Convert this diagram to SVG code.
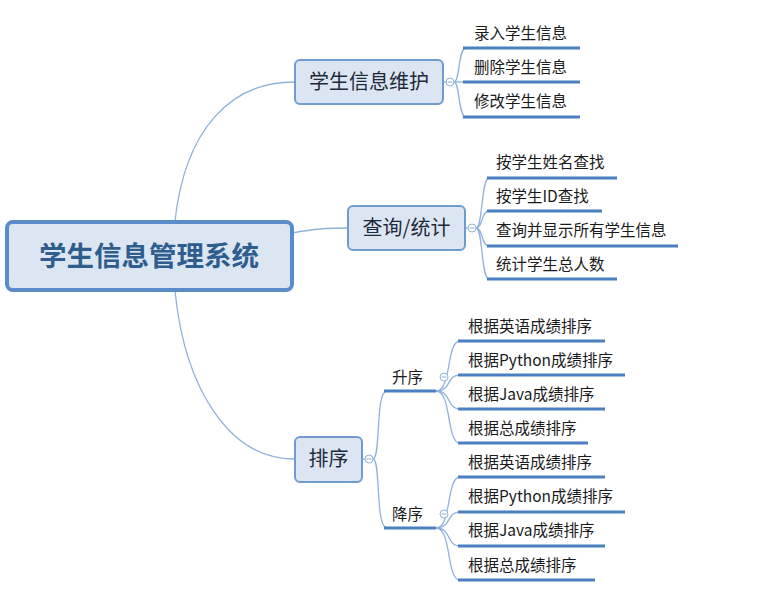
<svg xmlns="http://www.w3.org/2000/svg" width="774" height="595" viewBox="0 0 774 595">
<style>
.bg{fill:#ffffff}
.box{fill:#dce6f2;stroke:#6f9bd1;stroke-width:2}
.root{fill:#dce6f2;stroke:#5a8ccb;stroke-width:4}
.rt{font-family:"Noto Sans CJK SC","Noto Sans",sans-serif;font-size:27.5px;font-weight:bold;fill:#2f5d8e;text-anchor:middle}
.nt{font-family:"Noto Sans CJK SC","Noto Sans",sans-serif;font-size:20px;fill:#1c2a3a;text-anchor:middle}
.ct{font-family:"Noto Sans CJK SC","Noto Sans",sans-serif;font-size:15.5px;fill:#1a1a1a}
.ln{fill:none;stroke:#8fb2dc;stroke-width:1.3}
.ul{fill:none;stroke:#4a7fc0;stroke-width:3}
.tog{fill:#ffffff;stroke:#8fb2dc;stroke-width:1}
.tgm{stroke:#8fb2dc;stroke-width:1}
</style>
<rect class="bg" x="0" y="0" width="774" height="595"/>
<g id="connectors">
<path class="ln" d="M175,221 C185,130 230,82 294,82"/>
<path class="ln" d="M292,233 C315,229 325,228 348,228"/>
<path class="ln" d="M175,291 C185,390 230,459 294,459"/>
<path class="ln" d="M443,82 L446,82"/>
<path class="ln" d="M454,82 C460,82 458,48 466,48"/>
<path class="ln" d="M454,82 L466,82"/>
<path class="ln" d="M454,82 C460,82 458,117 466,117"/>
<path class="ln" d="M465,228 L468,228"/>
<path class="ln" d="M476,228 C483,228 481,178 489,178"/>
<path class="ln" d="M476,228 C483,228 481,211 489,211"/>
<path class="ln" d="M476,228 C483,228 481,246 489,246"/>
<path class="ln" d="M476,228 C483,228 481,279 489,279"/>
<path class="ln" d="M362,459 L365,459"/>
<path class="ln" d="M373,459 C381,459 375,391 387,391"/>
<path class="ln" d="M373,459 C381,459 375,528 387,528"/>
<path class="ln" d="M436,391 C452,391 446,341 460,341"/>
<path class="ln" d="M436,391 C452,391 446,375 460,375"/>
<path class="ln" d="M436,391 C452,391 446,409 460,409"/>
<path class="ln" d="M436,391 C452,391 446,443 460,443"/>
<path class="ln" d="M436,528 C452,528 446,477 460,477"/>
<path class="ln" d="M436,528 C452,528 446,512 460,512"/>
<path class="ln" d="M436,528 C452,528 446,546 460,546"/>
<path class="ln" d="M436,528 C452,528 446,580 460,580"/>
</g>
<g id="root">
<rect class="root" x="7" y="222" width="285" height="68" rx="6"/>
<text class="rt" x="149" y="266">学生信息管理系统</text>
</g>
<g id="n1">
<rect class="box" x="295" y="60" width="148" height="44" rx="5"/>
<text class="nt" x="369" y="89">学生信息维护</text>
<circle class="tog" cx="450" cy="82" r="4"/><line class="tgm" x1="447.5" y1="82" x2="452.5" y2="82"/>
</g>
<g id="n1c1"><text class="ct" x="474" y="39">录入学生信息</text><line class="ul" x1="463" y1="48" x2="580" y2="48"/></g>
<g id="n1c2"><text class="ct" x="474" y="73">删除学生信息</text><line class="ul" x1="463" y1="82" x2="580" y2="82"/></g>
<g id="n1c3"><text class="ct" x="474" y="107">修改学生信息</text><line class="ul" x1="463" y1="117" x2="580" y2="117"/></g>
<g id="n2">
<rect class="box" x="348" y="206" width="117" height="44" rx="5"/>
<text class="nt" x="406.5" y="235">查询/统计</text>
<circle class="tog" cx="472" cy="228" r="4"/><line class="tgm" x1="469.5" y1="228" x2="474.5" y2="228"/>
</g>
<g id="n2c1"><text class="ct" x="496" y="168">按学生姓名查找</text><line class="ul" x1="487" y1="178" x2="617" y2="178"/></g>
<g id="n2c2"><text class="ct" x="496" y="202">按学生ID查找</text><line class="ul" x1="487" y1="211" x2="602" y2="211"/></g>
<g id="n2c3"><text class="ct" x="496" y="236">查询并显示所有学生信息</text><line class="ul" x1="487" y1="246" x2="678" y2="246"/></g>
<g id="n2c4"><text class="ct" x="496" y="270">统计学生总人数</text><line class="ul" x1="487" y1="279" x2="617" y2="279"/></g>
<g id="n3">
<rect class="box" x="295" y="437" width="67" height="45" rx="5"/>
<text class="nt" x="328.5" y="466">排序</text>
<circle class="tog" cx="369" cy="459" r="4"/><line class="tgm" x1="366.5" y1="459" x2="371.5" y2="459"/>
</g>
<g id="asc">
<text class="ct" x="392" y="383">升序</text>
<line class="ul" x1="384" y1="391" x2="436" y2="391"/>
<circle class="tog" cx="444" cy="377" r="4"/><line class="tgm" x1="441.5" y1="377" x2="446.5" y2="377"/>
</g>
<g id="a1"><text class="ct" x="468" y="332">根据英语成绩排序</text><line class="ul" x1="458" y1="341" x2="605" y2="341"/></g>
<g id="a2"><text class="ct" x="468" y="366">根据Python成绩排序</text><line class="ul" x1="458" y1="375" x2="625" y2="375"/></g>
<g id="a3"><text class="ct" x="468" y="400">根据Java成绩排序</text><line class="ul" x1="458" y1="409" x2="605" y2="409"/></g>
<g id="a4"><text class="ct" x="468" y="434">根据总成绩排序</text><line class="ul" x1="458" y1="443" x2="588" y2="443"/></g>
<g id="desc">
<text class="ct" x="392" y="520">降序</text>
<line class="ul" x1="384" y1="528" x2="436" y2="528"/>
<circle class="tog" cx="444" cy="514" r="4"/><line class="tgm" x1="441.5" y1="514" x2="446.5" y2="514"/>
</g>
<g id="d1"><text class="ct" x="468" y="468">根据英语成绩排序</text><line class="ul" x1="458" y1="477" x2="605" y2="477"/></g>
<g id="d2"><text class="ct" x="468" y="502">根据Python成绩排序</text><line class="ul" x1="458" y1="512" x2="625" y2="512"/></g>
<g id="d3"><text class="ct" x="468" y="536">根据Java成绩排序</text><line class="ul" x1="458" y1="546" x2="605" y2="546"/></g>
<g id="d4"><text class="ct" x="468" y="571">根据总成绩排序</text><line class="ul" x1="458" y1="580" x2="595" y2="580"/></g>
</svg>
